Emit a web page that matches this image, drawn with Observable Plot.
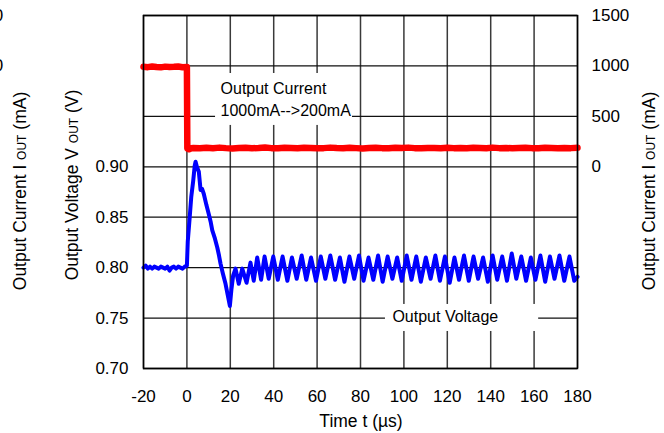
<!DOCTYPE html>
<html>
<head>
<meta charset="utf-8">
<script src="https://cdn.jsdelivr.net/npm/d3@7"></script>
<script src="https://cdn.jsdelivr.net/npm/@observablehq/plot@0.6"></script>
<style>
  html, body { margin: 0; padding: 0; background: #fff; }
  #chart svg { display: block; }
</style>
</head>
<body>
<div id="chart"></div>
<script>
// ---- data ----
const timeTicks = [-20, 0, 20, 40, 60, 80, 100, 120, 140, 160, 180];
const voltageTicks = [0.70, 0.75, 0.80, 0.85, 0.90];
const currentTicks = [0, 500, 1000, 1500];
// only these two labels of a cropped-off left current axis remain visible at the image edge
const croppedCurrentTicks = [1000, 1500];

const currentNote = "Output Current\n1000mA-->200mA";
const voltageNote = "Output Voltage";

// [time µs, output voltage V]
const voltage = [
  [-20,.800],[-19,.802],[-18,.799],[-17,.801],[-16,.799],[-15,.801],[-14,.800],[-13,.799],[-12,.801],[-11,.800],
  [-10,.799],[-9,.801],[-8,.797],[-7,.800],[-6,.801],[-5,.799],[-4,.801],[-3,.800],[-2,.799],[-1,.801],[0,.802],
  [0.4,.826],[1.3,.850],[2.0,.870],[2.9,.886],[3.6,.901],[4.0,.905],[4.6,.900],[5.5,.895],[6.3,.877],[7.0,.878],
  [7.8,.873],[9.0,.862],[10.1,.853],[11.0,.845],[11.7,.837],[12.9,.829],[14.0,.820],[14.8,.812],[15.5,.804],
  [16.6,.794],[17.8,.784],[18.8,.773],[19.8,.762],[20.5,.778],[21.3,.792],[22.4,.799],[23.9,.784],[25.5,.799],
  [27.5,.785],[29.3,.805],[30.8,.787],[32.4,.810],[34.2,.788],[35.8,.811],[37.7,.789],[39.8,.811],
  [41.9,.788],[44.1,.811],[46.3,.787],[48.4,.810],[50.6,.789],[52.9,.812],[55.0,.788],[57.2,.810],[59.5,.787],
  [61.7,.811],[63.8,.789],[66.1,.812],[68.3,.788],[70.5,.810],[72.6,.786],[74.9,.811],[77.1,.789],[79.3,.812],
  [81.4,.787],[83.7,.810],[85.9,.788],[88.1,.812],[90.2,.786],[92.5,.811],[94.7,.789],[96.9,.810],[99.0,.787],
  [101.3,.812],[103.5,.788],[105.7,.811],[107.8,.786],[110.1,.810],[112.3,.789],[114.5,.812],[116.6,.787],
  [118.9,.811],[121.1,.785],[123.3,.810],[125.4,.788],[127.7,.812],[129.9,.787],[132.1,.811],[134.2,.789],
  [136.5,.810],[138.7,.786],[140.9,.812],[143.0,.788],[145.3,.811],[147.5,.787],[149.7,.814],[151.8,.789],
  [154.1,.811],[156.3,.787],[158.5,.810],[160.6,.788],[162.9,.812],[165.1,.786],[167.3,.811],[169.4,.789],
  [171.7,.812],[173.9,.787],[176.3,.811],[178.5,.787],[180,.791]
];

// [time µs, output current mA]
const current = [
  [-20,992],[-18,988],[-16,995],[-14,990],[-12,986],[-10,993],[-8,989],[-6,991],[-4,994],[-2,987],[0,990],
  [0.2,182],[1,174],[2,184],[3,186],[6,183],[9,188],[12,184],[15,190],[18,185],[21,182],[24,187],[27,189],
  [30,184],[33,186],[36,191],[39,185],[42,183],[45,188],[48,186],[51,184],[54,189],[57,187],[60,183],
  [63,185],[66,190],[69,186],[72,184],[75,188],[78,185],[81,182],[84,187],[87,189],[90,185],[93,184],
  [96,188],[99,186],[102,190],[105,185],[108,183],[111,187],[114,186],[117,184],[120,189],[123,185],
  [126,187],[129,183],[132,188],[135,186],[138,184],[141,190],[144,185],[147,187],[150,183],[153,186],
  [156,189],[159,185],[162,184],[165,188],[168,186],[171,183],[174,187],[177,185],[180,188]
];

// right-hand current axis shares the frame: 0 mA at 0.90 V, 500 mA per 0.05 V
const I2V = mA => 0.90 + mA / 10000;
const gridY = Array.from(new Set([...voltageTicks, ...currentTicks.map(I2V)].map(v => +v.toFixed(3))));

const font = "'Liberation Sans', Arial, Helvetica, sans-serif";

const chart = Plot.plot({
  width: 664,
  height: 433,
  marginLeft: 143,
  marginRight: 87,
  marginTop: 15,
  marginBottom: 65,
  style: { fontFamily: font, fontSize: "17px", color: "black", background: "white" },
  x: { domain: [-20, 180] },
  y: { domain: [0.70, 1.05] },
  marks: [
    Plot.ruleX(timeTicks, { stroke: "#3a3a3a", strokeWidth: 1.5 }),
    Plot.ruleY(gridY, { stroke: "#111", strokeWidth: 1.3 }),
    // white backgrounds behind the two annotations
    Plot.rect([currentNote], { x1: 13.2, x2: 76.3, y1: 0.941, y2: 0.9925, fill: "white" }),
    Plot.rect([voltageNote], { x1: 91.5, x2: 162.1, y1: 0.7367, y2: 0.7635, fill: "white" }),
    Plot.line(current, { x: d => d[0], y: d => I2V(d[1]), stroke: "#ff0000", strokeWidth: 6.5, strokeLinejoin: "round", strokeLinecap: "round" }),
    Plot.line(voltage, { x: d => d[0], y: d => d[1], stroke: "#0000ff", strokeWidth: 4, strokeLinejoin: "round", strokeLinecap: "round" }),
    Plot.text([currentNote], { x: 15.5, y: 0.9678, text: d => d, textAnchor: "start", lineAnchor: "middle", lineHeight: 1.375, fontSize: 16 }),
    Plot.text([voltageNote], { x: 94.7, y: 0.7507, text: d => d, textAnchor: "start", fontSize: 16 }),
    Plot.axisX(timeTicks, { anchor: "bottom", tickSize: 0, tickPadding: 21, label: null, fontSize: 17, tickFormat: d => String(d).replace("\u2212", "-") }),
    Plot.axisY(voltageTicks, { anchor: "left", tickSize: 0, tickPadding: 15, tickFormat: d => d.toFixed(2), label: null, fontSize: 17 }),
    Plot.axisY(currentTicks.map(I2V), { anchor: "right", tickSize: 0, tickPadding: 14, tickFormat: d => String(Math.round((d - 0.9) * 10000)), label: null, fontSize: 17 }),
    // remnant of a cut-off current axis at the far left edge
    Plot.text(croppedCurrentTicks, { y: I2V, frameAnchor: "left", text: d => String(d), textAnchor: "start", dx: -178, fontSize: 17 }),
    Plot.frame({ stroke: "black", strokeWidth: 1.5 })
  ]
});

document.getElementById("chart").appendChild(chart);

// axis titles with subscripts
const svg = d3.select(chart);
function title(x, y, rotate, main, sub, tail) {
  const t = svg.append("text")
    .attr("transform", `translate(${x},${y})` + (rotate ? ` rotate(${rotate})` : ""))
    .attr("text-anchor", "middle")
    .attr("font-family", font)
    .attr("font-size", 17.5)
    .attr("fill", "black");
  t.append("tspan").text(main);
  if (sub) {
    t.append("tspan").attr("font-size", 12).text(sub);
    t.append("tspan").text(tail);
  }
  return t;
}
title(26, 191, -90, "Output Current I ", "OUT", " (mA)");
title(78, 185, -90, "Output Voltage V ", "OUT", " (V)");
title(655, 191, -90, "Output Current I ", "OUT", " (mA)");
title(361, 427, 0, "Time t (\u00b5s)");
</script>
</body>
</html>
